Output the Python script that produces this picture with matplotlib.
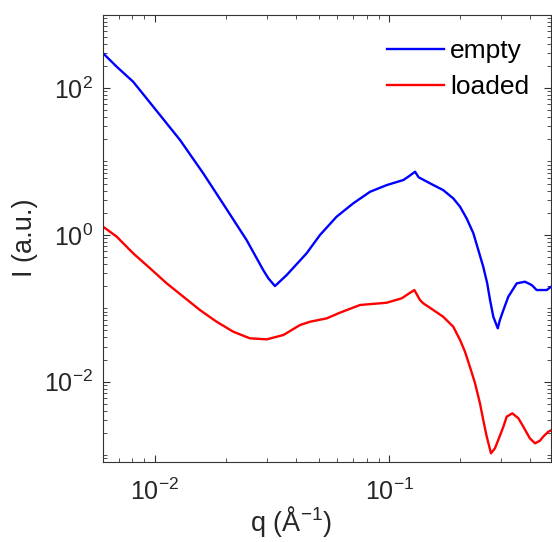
import matplotlib
matplotlib.use("Agg")
import numpy as np
import matplotlib.pyplot as plt
from matplotlib.ticker import LogLocator, NullFormatter, FixedLocator

plt.rcParams["font.family"] = ["Liberation Sans", "DejaVu Sans"]
plt.rcParams["mathtext.fontset"] = "custom"
plt.rcParams["mathtext.rm"] = "Liberation Sans"
plt.rcParams["mathtext.it"] = "Liberation Sans:italic"
plt.rcParams["mathtext.bf"] = "Liberation Sans:bold"
plt.rcParams["mathtext.default"] = "regular"

# curves, stored as decades (log10 q, log10 I)
logq_empty = [-2.235, -2.221, -2.163, -2.093, -2.007, -1.893, -1.794, -1.701,
              -1.609, -1.538, -1.516, -1.488, -1.438, -1.353, -1.296, -1.225,
              -1.154, -1.082, -1.011, -0.940, -0.919, -0.890, -0.875, -0.819,
              -0.770, -0.727, -0.698, -0.670, -0.641, -0.620, -0.599, -0.582,
              -0.570, -0.556, -0.537, -0.528, -0.513, -0.492, -0.456, -0.421,
              -0.392, -0.371, -0.328, -0.300]
logI_empty = [2.495, 2.473, 2.290, 2.086, 1.745, 1.292, 0.838, 0.383,
              -0.071, -0.480, -0.593, -0.698, -0.548, -0.252, -0.003, 0.247,
              0.429, 0.587, 0.678, 0.747, 0.792, 0.860, 0.785, 0.690,
              0.610, 0.497, 0.383, 0.225, 0.020, -0.207, -0.435, -0.661,
              -0.888, -1.116, -1.274, -1.161, -1.025, -0.843, -0.661, -0.639,
              -0.684, -0.752, -0.752, -0.684]

logq_loaded = [-2.235, -2.221, -2.163, -2.093, -2.021, -1.950, -1.879, -1.808,
               -1.737, -1.666, -1.595, -1.523, -1.452, -1.381, -1.338, -1.267,
               -1.210, -1.125, -1.011, -0.947, -0.915, -0.893, -0.869, -0.855,
               -0.812, -0.770, -0.727, -0.698, -0.677, -0.656, -0.634, -0.613,
               -0.599, -0.584, -0.566, -0.549, -0.535, -0.513, -0.499, -0.475,
               -0.449, -0.428, -0.400, -0.378, -0.357, -0.343, -0.321, -0.300]
logI_loaded = [0.130, 0.110, -0.026, -0.252, -0.456, -0.661, -0.843, -1.025,
               -1.184, -1.320, -1.410, -1.424, -1.365, -1.229, -1.184, -1.138,
               -1.060, -0.956, -0.925, -0.865, -0.797, -0.752, -0.888, -0.933,
               -1.025, -1.116, -1.252, -1.433, -1.592, -1.797, -2.023, -2.296,
               -2.523, -2.750, -2.977, -2.909, -2.796, -2.614, -2.478, -2.432,
               -2.500, -2.614, -2.773, -2.841, -2.805, -2.750, -2.682, -2.650]

q_empty = 10 ** np.array(logq_empty)
I_empty = 10 ** np.array(logI_empty)
q_loaded = 10 ** np.array(logq_loaded)
I_loaded = 10 ** np.array(logI_loaded)

fig = plt.figure(figsize=(5.52, 5.42), dpi=100)
ax = fig.add_axes([103 / 552, 80.3 / 542, 448 / 552, 447 / 542])

ax.loglog(q_empty, I_empty, color=(0, 0, 1), lw=1.7, label="empty")
ax.loglog(q_loaded, I_loaded, color=(1, 0, 0), lw=1.7, label="loaded")

ax.set_xlim(0.006, 0.49)
ax.set_ylim(8.1e-4, 1e3)

ax.xaxis.set_major_locator(LogLocator(base=10, numticks=10))
ax.yaxis.set_major_locator(FixedLocator([1e-2, 1e0, 1e2]))
ax.xaxis.set_minor_locator(LogLocator(base=10, subs=range(1, 10), numticks=20))
ax.yaxis.set_minor_locator(LogLocator(base=10, subs=range(1, 10), numticks=20))
ax.xaxis.set_minor_formatter(NullFormatter())
ax.yaxis.set_minor_formatter(NullFormatter())
ax.yaxis.set_major_formatter(matplotlib.ticker.LogFormatterSciNotation())

axcol = "#333333"
for s in ax.spines.values():
    s.set_color(axcol)
    s.set_linewidth(0.8)
ax.tick_params(which="both", direction="in", top=True, right=True,
               color=axcol, labelcolor="#262626", labelsize=18)
ax.tick_params(which="major", length=5, width=0.8)
ax.tick_params(which="minor", length=3, width=0.6)
ax.tick_params(axis="x", which="major", pad=12)
ax.tick_params(axis="y", which="major", pad=7)

ax.set_xlabel("q (Å$^{-1}$)", fontsize=19.5, color="#262626")
ax.set_ylabel("I (a.u.)", fontsize=19.5, color="#262626")
ax.xaxis.set_label_coords(0.42, -0.094)
ax.yaxis.set_label_coords(-0.145, 0.5)

ax.legend(loc="upper left", bbox_to_anchor=(0.634, 0.945), frameon=False,
          fontsize=19, handlelength=2.16, handletextpad=0.23, labelspacing=0.45,
          borderpad=0, borderaxespad=0)

fig.savefig("out.png", dpi=100)
